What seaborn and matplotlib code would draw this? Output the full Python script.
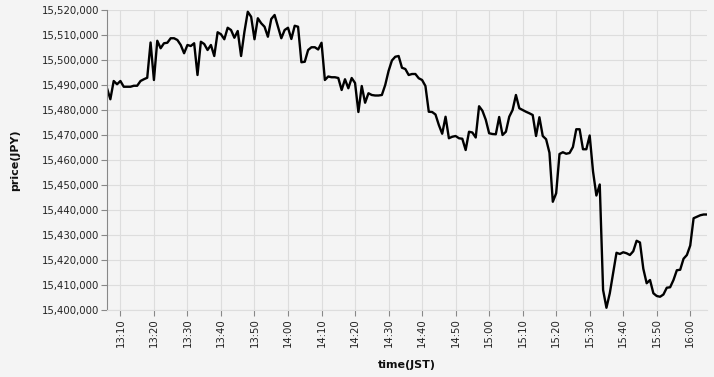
import numpy as np
import pandas as pd
import matplotlib
matplotlib.use("Agg")
import matplotlib.pyplot as plt
import matplotlib.dates as mdates
import matplotlib.ticker as mticker
import seaborn as sns

start_time = "2024-01-01 13:06"
n_minutes = 180

price = [
    15488700, 15484300, 15491600, 15490300, 15491600, 15489300, 15489300, 15489300, 15489700, 15489700,
    15491600, 15492300, 15492900, 15507000, 15492000, 15507700, 15504700, 15506700, 15506900, 15508700,
    15508700, 15508000, 15506000, 15502700, 15506000, 15505600, 15506700, 15494000, 15507300, 15506400,
    15504000, 15506000, 15501600, 15511100, 15510300, 15508300, 15512900, 15512000, 15508900, 15511600,
    15501600, 15511300, 15519300, 15517300, 15508300, 15516700, 15514700, 15513300, 15509300, 15516400,
    15518000, 15513300, 15508700, 15512000, 15512900, 15508400, 15513700, 15513300, 15499100, 15499300,
    15504000, 15505100, 15505100, 15504200, 15506900, 15492000, 15493400, 15493100, 15493100, 15492800,
    15488000, 15492300, 15488700, 15492800, 15490800, 15479200, 15489600, 15482900, 15486700, 15486000,
    15485800, 15485800, 15486000, 15490000, 15495600, 15499800, 15501300, 15501600, 15496900, 15496400,
    15494000, 15494400, 15494400, 15492700, 15492000, 15489600, 15479300, 15479200, 15478200, 15474000,
    15470500, 15477300, 15468700, 15469300, 15469600, 15468700, 15468500, 15464000, 15471300, 15471000,
    15469000, 15481500, 15479700, 15476100, 15470700, 15470400, 15470300, 15477200, 15470000, 15471300,
    15477300, 15480000, 15486000, 15480700, 15480000, 15479300, 15478700, 15478000, 15469600, 15477100,
    15469600, 15468300, 15462900, 15443300, 15446700, 15462400, 15463100, 15462500, 15462800, 15465200,
    15472300, 15472300, 15464300, 15464300, 15469800, 15455400, 15445800, 15450200, 15408000, 15400900,
    15406700, 15414800, 15422900, 15422400, 15423100, 15422700, 15422000, 15423500, 15427700, 15427000,
    15416500, 15410700, 15412000, 15406700, 15405600, 15405300, 15406200, 15408900, 15409100, 15412000,
    15415900, 15416100, 15420500, 15422000, 15425800, 15436700, 15437300, 15437900, 15438200, 15438200,
]

y_ticks = list(range(15400000, 15520001, 10000))
x_label = "time(JST)"
y_label = "price(JPY)"

times = pd.date_range(start_time, periods=n_minutes, freq="1min")
df = pd.DataFrame({"time": times, "price": price})

sns.set_theme(style="whitegrid")
plt.rcParams["font.family"] = ["DejaVu Sans"]

bg = "#f4f4f4"
fig = plt.figure(figsize=(7.14, 3.77), dpi=100, facecolor=bg)
ax = fig.add_axes([107/714, 1 - 310/377, 600/714, 300/377])
ax.set_facecolor(bg)

sns.lineplot(data=df, x="time", y="price", ax=ax, color="black", linewidth=1.7)

ax.set_xlim(times[0], times[-1])
ax.set_ylim(y_ticks[0], y_ticks[-1])
ax.set_yticks(y_ticks)
ax.yaxis.set_major_formatter(mticker.FuncFormatter(lambda v, p: f"{int(v):,}"))
ax.xaxis.set_major_locator(mdates.MinuteLocator(byminute=range(0, 60, 10)))
ax.xaxis.set_major_formatter(mdates.DateFormatter("%H:%M"))

ax.grid(True, color="#dddddd", linewidth=0.8)
for s in ["top", "right"]:
    ax.spines[s].set_visible(False)
ax.spines["left"].set_color("#888888")
ax.spines["left"].set_linewidth(0.8)
ax.spines["bottom"].set_color("#dddddd")
ax.spines["bottom"].set_linewidth(0.8)

ax.tick_params(axis="y", which="major", length=4, width=0.8, color="#888888",
               labelsize=7.3, labelcolor="#222222", pad=1.5, left=True)
ax.tick_params(axis="x", which="major", length=4, width=0.8, color="#888888",
               labelsize=7.3, labelcolor="#222222", pad=2, bottom=True, labelrotation=90)

ax.set_xlabel(x_label, fontsize=8, fontweight="bold", color="#111111", labelpad=9)
ax.set_ylabel(y_label, fontsize=8, fontweight="bold", color="#111111", labelpad=16)

fig.savefig("out.png", dpi=100, facecolor=bg)
